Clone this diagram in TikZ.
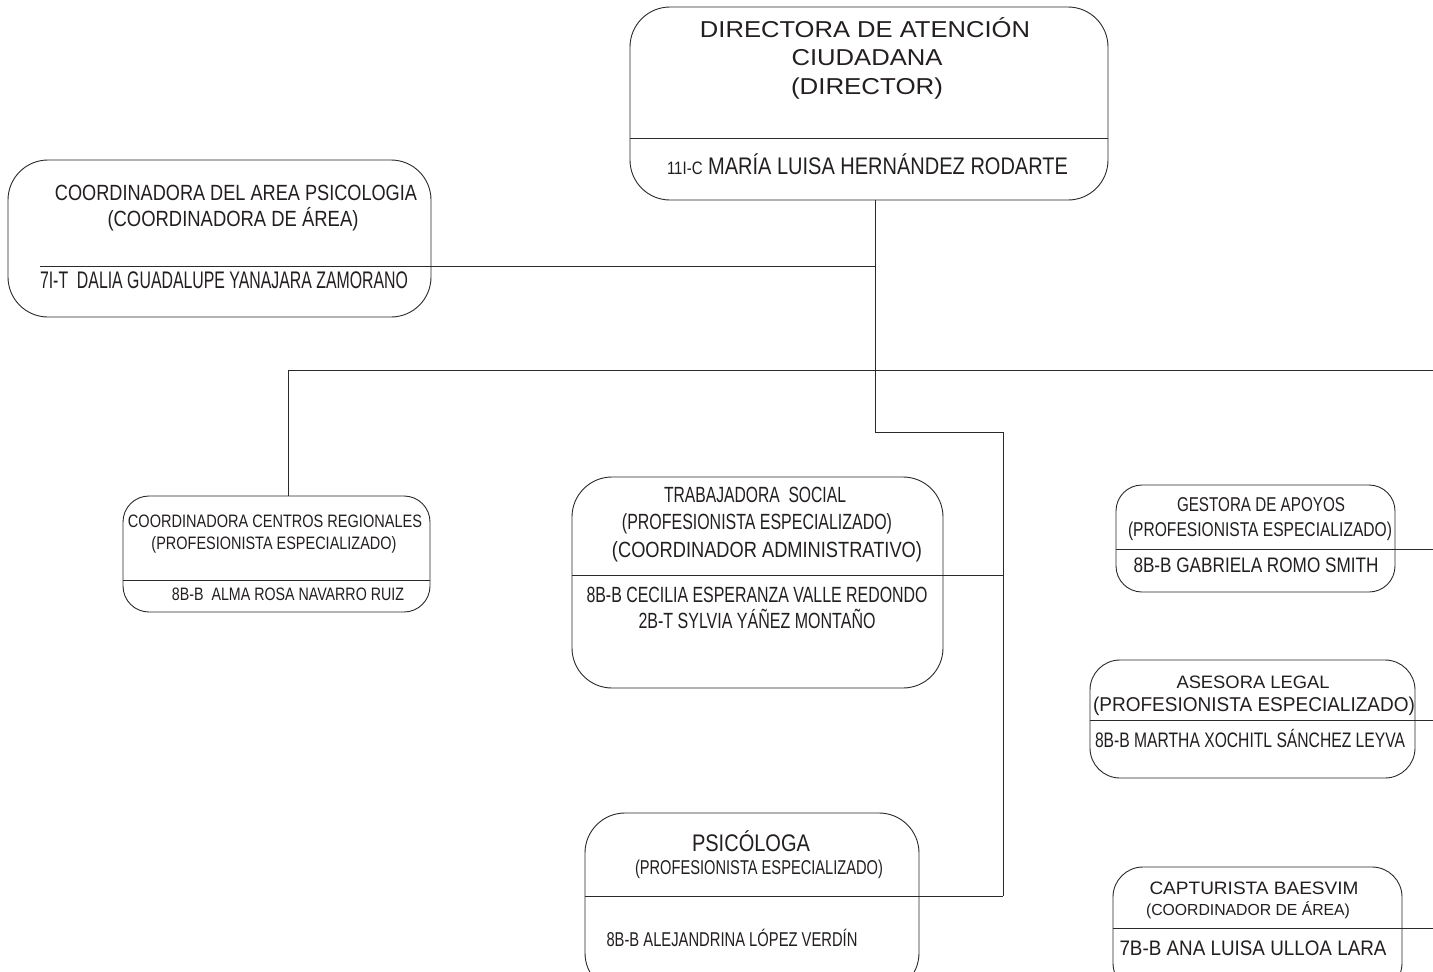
\documentclass[tikz,border=0pt]{standalone}
\usepackage{fontspec}
\setmainfont{Liberation Sans}
\usepackage{graphicx}
\definecolor{ink}{HTML}{231F20}
\definecolor{edge}{HTML}{2A2A2A}
\newcommand{\tl}[6]{\node[txt, anchor=base] (#1) at (#2,#3) {\resizebox{#4pt}{\height}{\fontsize{#5}{#5}\selectfont #6}};}
\begin{document}
\begin{tikzpicture}[x=1pt,y=-1pt,
  txt/.style={inner sep=0pt, outer sep=0pt, text=ink},
  box/.style={draw=edge, line width=0.9pt, inner sep=0pt, outer sep=0pt},
  wire/.style={draw=edge, line width=0.9pt}]
\useasboundingbox[fill=white] (0,0) rectangle (1433,972);
% boxes
\node[box, minimum width=478pt, minimum height=193pt, rounded corners=40pt] (dir) at (869,103.5) {};
\node[box, minimum width=423pt, minimum height=157pt, rounded corners=40pt] (psy) at (219.5,238.5) {};
\node[box, minimum width=307pt, minimum height=116pt, rounded corners=26pt] (ccr) at (276.5,554) {};
\node[box, minimum width=371pt, minimum height=211pt, rounded corners=40pt] (ts) at (757.5,582.5) {};
\node[box, minimum width=334pt, minimum height=180pt, rounded corners=40pt] (psi) at (752,903) {};
\node[box, minimum width=279pt, minimum height=107pt, rounded corners=26pt] (ges) at (1255.5,538.5) {};
\node[box, minimum width=325pt, minimum height=118pt, rounded corners=30pt] (ase) at (1252.5,719) {};
\node[box, minimum width=289pt, minimum height=126pt, rounded corners=30pt] (cap) at (1257.5,930) {};
% coordinates
\coordinate (trunkA) at (875,266);
\coordinate (busL) at (288,370);
\coordinate (busR) at (1433,370);
\coordinate (elbow) at (875,432);
\coordinate (elbowR) at (1003,432);
\coordinate (tsR) at (1003,575);
\coordinate (psiR) at (1003,896);
\coordinate (psyL) at (40,266);
\coordinate (gesR) at (1433,549);
\coordinate (aseR) at (1433,720);
\coordinate (capR) at (1433,928);
% dividers
\draw[wire] (dir.west |- 0,138) -- (dir.east |- 0,138);
\draw[wire] (ccr.west |- 0,580) -- (ccr.east |- 0,580);
\draw[wire] (psyL) -- (trunkA);
\draw[wire] (ts.west |- tsR) -- (tsR);
\draw[wire] (psi.west |- psiR) -- (psiR);
\draw[wire] (ges.west |- gesR) -- (gesR);
\draw[wire] (ase.west |- aseR) -- (aseR);
\draw[wire] (cap.west |- capR) -- (capR);
% connectors
\draw[wire] (elbow |- dir.south) -- (elbow) -- (elbowR) -- (psiR);
\draw[wire] (busL) -- (busR);
\draw[wire] (busL) -- (ccr.north -| busL);
% texts
\tl{d1}{865}{37}{330}{23}{DIRECTORA DE ATENCIÓN}
\tl{d2}{867}{65}{151}{23}{CIUDADANA}
\tl{d3}{867}{94}{152}{23}{(DIRECTOR)}
\tl{d4}{867.5}{174.6}{401}{24}{{\fontsize{18}{18}\selectfont 11I-C} MARÍA LUISA HERNÁNDEZ RODARTE}
\tl{p1}{236}{200}{362}{22}{COORDINADORA DEL AREA PSICOLOGIA}
\tl{p2}{233}{226}{251}{22}{(COORDINADORA DE ÁREA)}
\tl{p3}{224}{288}{368}{24}{7I-T\ \ DALIA GUADALUPE YANAJARA ZAMORANO}
\tl{c1}{275}{527}{294}{18}{COORDINADORA CENTROS REGIONALES}
\tl{c2}{274}{549}{245}{18}{(PROFESIONISTA ESPECIALIZADO)}
\tl{c3}{288}{600}{232}{18}{8B-B\ \ ALMA ROSA NAVARRO RUIZ}
\tl{t1}{755}{502}{182}{22}{TRABAJADORA\ \ SOCIAL}
\tl{t2}{757}{529.5}{270}{22}{(PROFESIONISTA ESPECIALIZADO)}
\tl{t3}{767}{557}{310}{22}{(COORDINADOR ADMINISTRATIVO)}
\tl{t4}{757}{602}{341}{22}{8B-B CECILIA ESPERANZA VALLE REDONDO}
\tl{t5}{757}{628.5}{237}{22}{2B-T SYLVIA YÁÑEZ MONTAÑO}
\tl{s1}{751}{851.6}{118}{24}{PSICÓLOGA}
\tl{s2}{759}{874}{248}{20}{(PROFESIONISTA ESPECIALIZADO)}
\tl{s3}{732}{946}{251}{20}{8B-B ALEJANDRINA LÓPEZ VERDÍN}
\tl{g1}{1261}{511}{168}{20}{GESTORA DE APOYOS}
\tl{g2}{1260}{536}{264}{20}{(PROFESIONISTA ESPECIALIZADO)}
\tl{g3}{1256}{572.5}{245}{21}{8B-B GABRIELA ROMO SMITH}
\tl{a1}{1253}{688.5}{153}{18}{ASESORA LEGAL}
\tl{a2}{1254}{711}{322}{20}{(PROFESIONISTA ESPECIALIZADO)}
\tl{a3}{1250}{747.5}{310}{21}{8B-B MARTHA XOCHITL SÁNCHEZ LEYVA}
\tl{k1}{1254}{894.5}{209}{18}{CAPTURISTA BAESVIM}
\tl{k2}{1248}{915.7}{204}{16}{(COORDINADOR DE ÁREA)}
\tl{k3}{1253}{955.5}{267}{21}{7B-B ANA LUISA ULLOA LARA}
\end{tikzpicture}
\end{document}
